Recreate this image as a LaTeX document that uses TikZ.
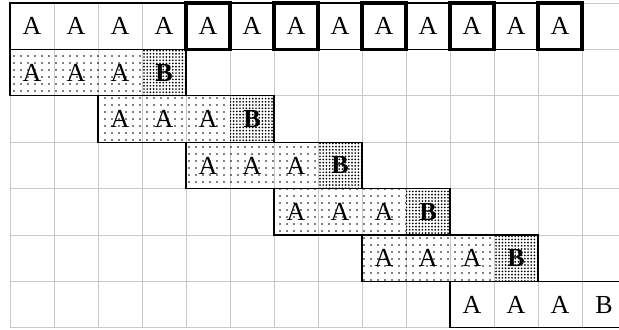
\documentclass[tikz,border=0pt]{standalone}
\usepackage{fontspec}
\setmainfont{Liberation Serif}
\usetikzlibrary{patterns.meta, positioning}
\definecolor{gridgray}{HTML}{C8C8C8}
\tikzset{
	cell/.style={minimum width=44pt, minimum height=46.4pt, inner sep=0pt, outer sep=0pt,
		font=\fontsize{26}{26}\selectfont},
	sparse/.style={pattern={Dots[distance=7pt, radius=0.9pt]}},
	dense/.style={pattern={Dots[distance=3.2pt, radius=0.95pt]},
		font=\bfseries\fontsize{26}{26}\selectfont},
	rowbox/.style={draw=black, line width=1.2pt},
	thickbox/.style={draw=black, line width=3.8pt}
}

\begin{document}
\begin{tikzpicture}[x=44pt, y=-46.4pt]
	\useasboundingbox (-0.227,-0.065) rectangle (13.84,7.026);
	\clip (-0.227,-0.065) rectangle (13.84,7.026);
	% grid
	\foreach \i in {0,...,14} \draw[gridgray, line width=0.8pt] (\i,0) -- (\i,7);
	\foreach \j in {0,...,7} \draw[gridgray, line width=0.8pt] (0,\j) -- (14,\j);
	% top row
	\foreach \i in {0,...,12} \node[cell] (top\i) at (\i+0.5,0.5) {A};
	\draw[rowbox] (top0.north west) rectangle (top12.south east);
	\foreach \i in {4,6,...,12}
		\draw[thickbox] (top\i.north west) rectangle (top\i.south east);
	% shaded rows
	\foreach \r in {1,...,5} {
		\pgfmathtruncatemacro\s{2*(\r-1)}
		\foreach \j in {0,1,2}
			\node[cell, sparse] (row\r-\j) at (\s+\j+0.5,\r+0.5) {A};
		\node[cell, dense] (row\r-3) at (\s+3.5,\r+0.5) {B};
		\draw[rowbox] (row\r-0.north west) rectangle (row\r-3.south east);
	}
	% last row
	\foreach \j in {0,1,2} \node[cell] (last-\j) at (10+\j+0.5,6.5) {A};
	\node[cell] (last-3) at (13.5,6.5) {B};
	\draw[rowbox] (last-0.north west) rectangle (last-3.south east);
\end{tikzpicture}
\end{document}
